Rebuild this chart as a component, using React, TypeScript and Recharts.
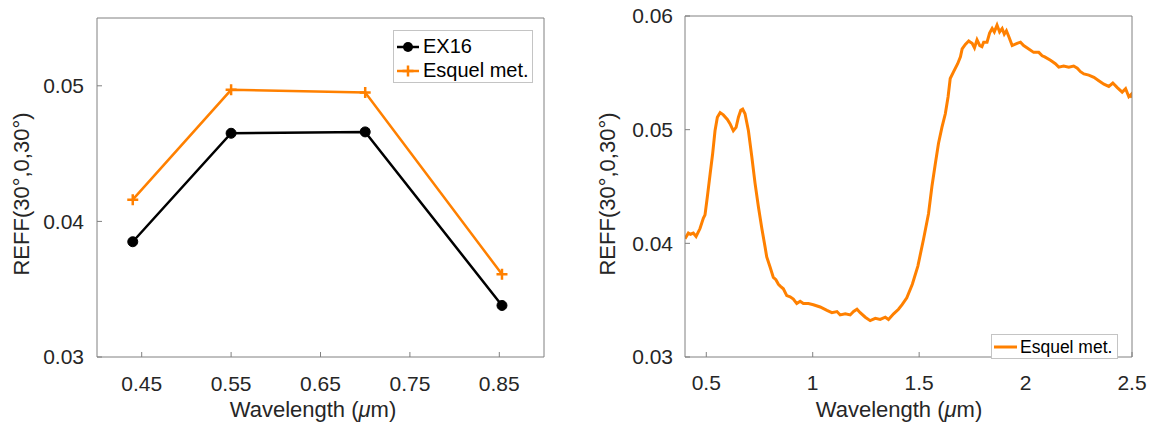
import { LineChart, Line, XAxis, YAxis } from "recharts";

const FONT = "'Liberation Sans', Arial, Helvetica, sans-serif";
const TEXT = "#262626";
const FRAME = "#808080";
const ORANGE = "#ff8000";

// left panel: band-averaged values
const bandWavelength = [0.44, 0.55, 0.7, 0.853];
const ex16Reff = [0.0385, 0.0465, 0.0466, 0.0338];
const esquelBandReff = [0.0416, 0.0497, 0.0495, 0.0361];
const leftXTicks = [0.45, 0.55, 0.65, 0.75, 0.85];
const leftYTicks = [0.03, 0.04, 0.05];

// right panel: full spectrum
const spectrumWavelength = [
  0.4, 0.416, 0.426, 0.439, 0.452, 0.4705, 0.486, 0.494, 0.505, 0.518,
  0.53, 0.541, 0.552, 0.565, 0.58, 0.599, 0.612, 0.627, 0.64, 0.651,
  0.662, 0.671, 0.682, 0.698, 0.714, 0.729, 0.745, 0.761, 0.776, 0.784,
  0.8, 0.815, 0.827, 0.839, 0.85, 0.862, 0.878, 0.894, 0.909, 0.925,
  0.941, 0.956, 0.98, 1.003, 1.035, 1.067, 1.09, 1.114, 1.129, 1.153,
  1.176, 1.192, 1.208, 1.223, 1.247, 1.27, 1.294, 1.317, 1.341, 1.356,
  1.38, 1.403, 1.42, 1.442, 1.468, 1.494, 1.521, 1.544, 1.56, 1.576,
  1.591, 1.607, 1.623, 1.636, 1.646, 1.662, 1.681, 1.694, 1.702, 1.717,
  1.733, 1.741, 1.749, 1.76, 1.772, 1.785, 1.795, 1.803, 1.819, 1.831,
  1.843, 1.853, 1.866, 1.878, 1.89, 1.9, 1.91, 1.921, 1.937, 1.96,
  1.976, 1.991, 2.015, 2.038, 2.062, 2.078, 2.09, 2.117, 2.14, 2.156,
  2.179, 2.203, 2.226, 2.243, 2.258, 2.274, 2.297, 2.321, 2.344, 2.368,
  2.391, 2.41, 2.431, 2.454, 2.47, 2.485, 2.496, 2.5,
];
const spectrumReff = [
  0.0404, 0.0409, 0.0408, 0.0409, 0.0406, 0.0413, 0.0422, 0.0425, 0.0441, 0.0461,
  0.0479, 0.0499, 0.0511, 0.0515, 0.0513, 0.0509, 0.0505, 0.0499, 0.0502, 0.0511,
  0.0517, 0.0518, 0.0514, 0.0499, 0.0476, 0.0453, 0.0432, 0.0413, 0.0397, 0.0388,
  0.0379, 0.037, 0.0368, 0.0364, 0.0362, 0.036, 0.0354, 0.0353, 0.0351, 0.0347,
  0.0349, 0.0347, 0.0347, 0.0346, 0.0344, 0.0341, 0.0339, 0.034, 0.0337, 0.0338,
  0.0337, 0.034, 0.0342, 0.0339, 0.0335, 0.0332, 0.0334, 0.0333, 0.0335, 0.0333,
  0.0338, 0.0342, 0.0346, 0.0352, 0.0364, 0.038, 0.0404, 0.0426, 0.045, 0.047,
  0.0488, 0.0502, 0.0514, 0.0529, 0.0545, 0.0551, 0.0558, 0.0564, 0.0571, 0.0575,
  0.0578, 0.0577, 0.0576, 0.0572, 0.0579, 0.0574, 0.0573, 0.0577, 0.0577, 0.0585,
  0.0589, 0.0586, 0.0592, 0.0586, 0.0589, 0.0584, 0.0587, 0.0582, 0.0574, 0.0576,
  0.0577, 0.0574, 0.0571, 0.0568, 0.0568, 0.0565, 0.0564, 0.0561, 0.0558, 0.0555,
  0.0556, 0.0555, 0.0556, 0.0554, 0.0551, 0.0549, 0.0548, 0.0546, 0.0543, 0.054,
  0.0538, 0.0541, 0.0537, 0.0533, 0.0536, 0.0529, 0.0531, 0.0528,
];
const rightXTicks = [0.5, 1, 1.5, 2, 2.5];
const rightYTicks = [0.03, 0.04, 0.05, 0.06];

const bandData = bandWavelength.map((x, i) => ({
  x,
  ex16: ex16Reff[i],
  esquel: esquelBandReff[i],
}));
const spectrumData = spectrumWavelength.map((x, i) => ({ x, reff: spectrumReff[i] }));

const tickStyle = { fill: TEXT, fontSize: 21, fontFamily: FONT };

// axis titles drawn on an overlay so Recharts doesn't reposition them
function Titles({ xCenter, yTitleX }: { xCenter: number; yTitleX: number }) {
  return (
    <svg
      width={576}
      height={425}
      style={{ position: "absolute", left: 0, top: 0, pointerEvents: "none" }}
    >
      <text x={xCenter} y={417} textAnchor="middle" fill={TEXT} fontSize={22} fontFamily={FONT}>
        Wavelength (<tspan fontStyle="italic">μ</tspan>m)
      </text>
      <text
        x={yTitleX}
        y={194}
        textAnchor="middle"
        fill={TEXT}
        fontSize={22}
        fontFamily={FONT}
        transform={`rotate(-90, ${yTitleX}, 194)`}
      >
        REFF(30°,0,30°)
      </text>
    </svg>
  );
}

// MATLAB-style box: inward ticks on all four sides
function frameAxes(opts: {
  xDomain: [number, number];
  xTicks: number[];
  yDomain: [number, number];
  yTicks: number[];
  yWidth: number;
  xFmt: (v: number) => string;
  xTickMargin: number;
  yTickMargin: number;
}) {
  const line = { stroke: FRAME, strokeWidth: 1 };
  return [
    <XAxis
      key="xb"
      xAxisId="b"
      type="number"
      dataKey="x"
      domain={opts.xDomain}
      allowDataOverflow
      ticks={opts.xTicks}
      tickFormatter={opts.xFmt}
      tick={tickStyle}
      axisLine={line}
      tickLine={line}
      tickSize={-5}
      tickMargin={opts.xTickMargin}
      height={68}
      interval={0}
    />,
    <XAxis
      key="xt"
      xAxisId="t"
      orientation="top"
      type="number"
      dataKey="x"
      domain={opts.xDomain}
      allowDataOverflow
      ticks={opts.xTicks}
      tick={false}
      axisLine={line}
      tickLine={line}
      tickSize={-5}
      height={1}
      interval={0}
    />,
    <YAxis
      key="yl"
      yAxisId="l"
      type="number"
      domain={opts.yDomain}
      allowDataOverflow
      ticks={opts.yTicks}
      tickFormatter={(v: number) => v.toFixed(2)}
      tick={tickStyle}
      axisLine={line}
      tickLine={line}
      tickSize={-5}
      tickMargin={opts.yTickMargin}
      width={opts.yWidth}
      interval={0}
    />,
    <YAxis
      key="yr"
      yAxisId="r"
      orientation="right"
      type="number"
      domain={opts.yDomain}
      allowDataOverflow
      ticks={opts.yTicks}
      tick={false}
      axisLine={line}
      tickLine={line}
      tickSize={-5}
      width={1}
      interval={0}
    />,
  ];
}

function PlusDot(props: any) {
  const { cx, cy } = props;
  if (cx == null || cy == null) return null;
  return (
    <path
      d={`M${cx - 5.5},${cy}H${cx + 5.5}M${cx},${cy - 5.5}V${cy + 5.5}`}
      stroke={ORANGE}
      strokeWidth={2.5}
      fill="none"
    />
  );
}

const legendText = { position: "absolute" as const, color: "#000", fontFamily: FONT, whiteSpace: "nowrap" as const };

export default function App() {
  return (
    <div style={{ position: "absolute", left: 0, top: 0, width: 1152, height: 425, background: "#fff" }}>
      <div style={{ position: "absolute", left: 0, top: 0 }}>
        <LineChart width={576} height={425} data={bandData} margin={{ top: 17, right: 31, bottom: 0, left: 0 }}>
          {frameAxes({
            xDomain: [0.4, 0.9],
            xTicks: leftXTicks,
            yDomain: [0.03, 0.055],
            yTicks: leftYTicks,
            yWidth: 97,
            xFmt: (v) => v.toFixed(2),
            xTickMargin: 24,
            yTickMargin: 18,
          })}
          <Line
            xAxisId="b"
            yAxisId="l"
            dataKey="ex16"
            type="linear"
            stroke="#000"
            strokeWidth={2.5}
            dot={{ r: 5, fill: "#000", stroke: "#000", strokeWidth: 1 }}
            isAnimationActive={false}
          />
          <Line
            xAxisId="b"
            yAxisId="l"
            dataKey="esquel"
            type="linear"
            stroke={ORANGE}
            strokeWidth={2.5}
            dot={<PlusDot />}
            isAnimationActive={false}
          />
        </LineChart>
        <Titles xCenter={313} yTitleX={29} />
        <div
          style={{
            position: "absolute",
            left: 393,
            top: 30,
            width: 140,
            height: 53,
            boxSizing: "border-box",
            border: "1px solid #c4c4c4",
            background: "#fff",
          }}
        >
          <svg style={{ position: "absolute", left: 3, top: 5 }} width={24} height={44}>
            <line x1={0} y1={11} x2={22} y2={11} stroke="#000" strokeWidth={2.5} />
            <circle cx={11} cy={11} r={5} fill="#000" />
            <line x1={0} y1={35} x2={22} y2={35} stroke={ORANGE} strokeWidth={2.5} />
            <path d="M5.5,35H16.5M11,29.5V40.5" stroke={ORANGE} strokeWidth={2.5} />
          </svg>
          <span style={{ ...legendText, left: 29, top: 3, fontSize: 20, lineHeight: "24px" }}>EX16</span>
          <span style={{ ...legendText, left: 29, top: 27, fontSize: 20, lineHeight: "24px" }}>Esquel met.</span>
        </div>
      </div>
      <div style={{ position: "absolute", left: 576, top: 0 }}>
        <LineChart width={576} height={425} data={spectrumData} margin={{ top: 15, right: 19, bottom: 0, left: 0 }}>
          {frameAxes({
            xDomain: [0.4, 2.5],
            xTicks: rightXTicks,
            yDomain: [0.03, 0.06],
            yTicks: rightYTicks,
            yWidth: 109,
            xFmt: (v) => String(v),
            xTickMargin: 23,
            yTickMargin: 17,
          })}
          <Line
            xAxisId="b"
            yAxisId="l"
            dataKey="reff"
            type="linear"
            stroke={ORANGE}
            strokeWidth={3}
            dot={false}
            isAnimationActive={false}
          />
        </LineChart>
        <Titles xCenter={323} yTitleX={39} />
        <div
          style={{
            position: "absolute",
            left: 415,
            top: 334,
            width: 127,
            height: 25,
            boxSizing: "border-box",
            border: "1px solid #c4c4c4",
            background: "#fff",
          }}
        >
          <svg style={{ position: "absolute", left: 1, top: 0 }} width={26} height={24}>
            <line x1={1} y1={12} x2={24} y2={12} stroke={ORANGE} strokeWidth={3} />
          </svg>
          <span style={{ ...legendText, left: 28, top: 1, fontSize: 17.5, lineHeight: "22px" }}>Esquel met.</span>
        </div>
      </div>
    </div>
  );
}
